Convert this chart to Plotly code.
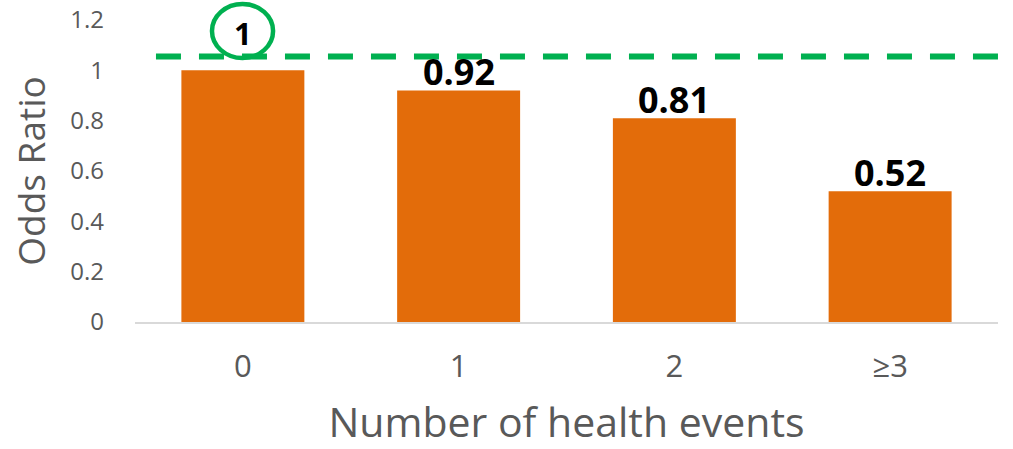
import plotly.graph_objects as go

# Odds ratio by number of health events
categories = ["0", "1", "2", "≥3"]
odds_ratio = [1, 0.92, 0.81, 0.52]
reference_level = 1.055
y_ticks = [0, 0.2, 0.4, 0.6, 0.8, 1, 1.2]
y_tick_text = ["0", "0.2", "0.4", "0.6", "0.8", "1", "1.2"]

BAR_COLOR = "#E36C0A"
GREEN = "#00B050"
GREY = "#595959"
FONT = "Open Sans"

fig = go.Figure(
    go.Bar(
        x=categories,
        y=odds_ratio,
        marker=dict(color=BAR_COLOR, line=dict(width=0)),
        width=0.57,
        hoverinfo="x+y",
    )
)

# value labels above each bar
for i, (cat, val) in enumerate(zip(categories, odds_ratio)):
    if i == 0:
        continue
    fig.add_annotation(
        x=cat, y=val, text=f"<b>{val:g}</b>", showarrow=False,
        yanchor="bottom", yshift=-8,
        font=dict(family=FONT, size=36, color="#000000"),
    )

# first bar's label is circled and lifted above the reference line
fig.add_annotation(
    x=categories[0], y=0.957, yref="paper", yanchor="middle",
    text=f"<b>{odds_ratio[0]:g}</b>", showarrow=False,
    font=dict(family=FONT, size=31, color="#000000"),
)
fig.add_shape(
    type="circle", xref="paper", yref="paper",
    x0=0.0892, x1=0.16, y0=0.874, y1=1.053,
    line=dict(color=GREEN, width=4.5),
)

# dashed reference line
fig.add_shape(
    type="line", xref="paper", yref="y",
    x0=0.0243, x1=1.02, y0=reference_level, y1=reference_level,
    line=dict(color=GREEN, width=6, dash="25px,18px"),
)

# vertical axis title
fig.add_annotation(
    x=-0.122, y=0.5, xref="paper", yref="paper",
    xanchor="center", yanchor="middle", textangle=-90,
    text="Odds Ratio", showarrow=False,
    font=dict(family=FONT, size=37, color=GREY),
)

fig.update_layout(
    width=1013, height=449,
    margin=dict(l=135, r=15, t=20, b=127),
    paper_bgcolor="white", plot_bgcolor="white",
    showlegend=False,
    font=dict(family=FONT, color=GREY),
    xaxis=dict(
        automargin=False,
        showgrid=False, showline=True, linecolor="#D9D9D9", linewidth=2,
        ticks="", tickfont=dict(size=31, color=GREY),
        ticklabelstandoff=16,
        title=dict(text="Number of health events", font=dict(size=41, color=GREY), standoff=30),
    ),
    yaxis=dict(
        automargin=False,
        range=[0, 1.2], tickvals=y_ticks, ticktext=y_tick_text,
        showgrid=False, zeroline=False, showline=False,
        tickfont=dict(size=24, color=GREY),
        ticklabelstandoff=30,
    ),
)

fig.write_html("out.html")
